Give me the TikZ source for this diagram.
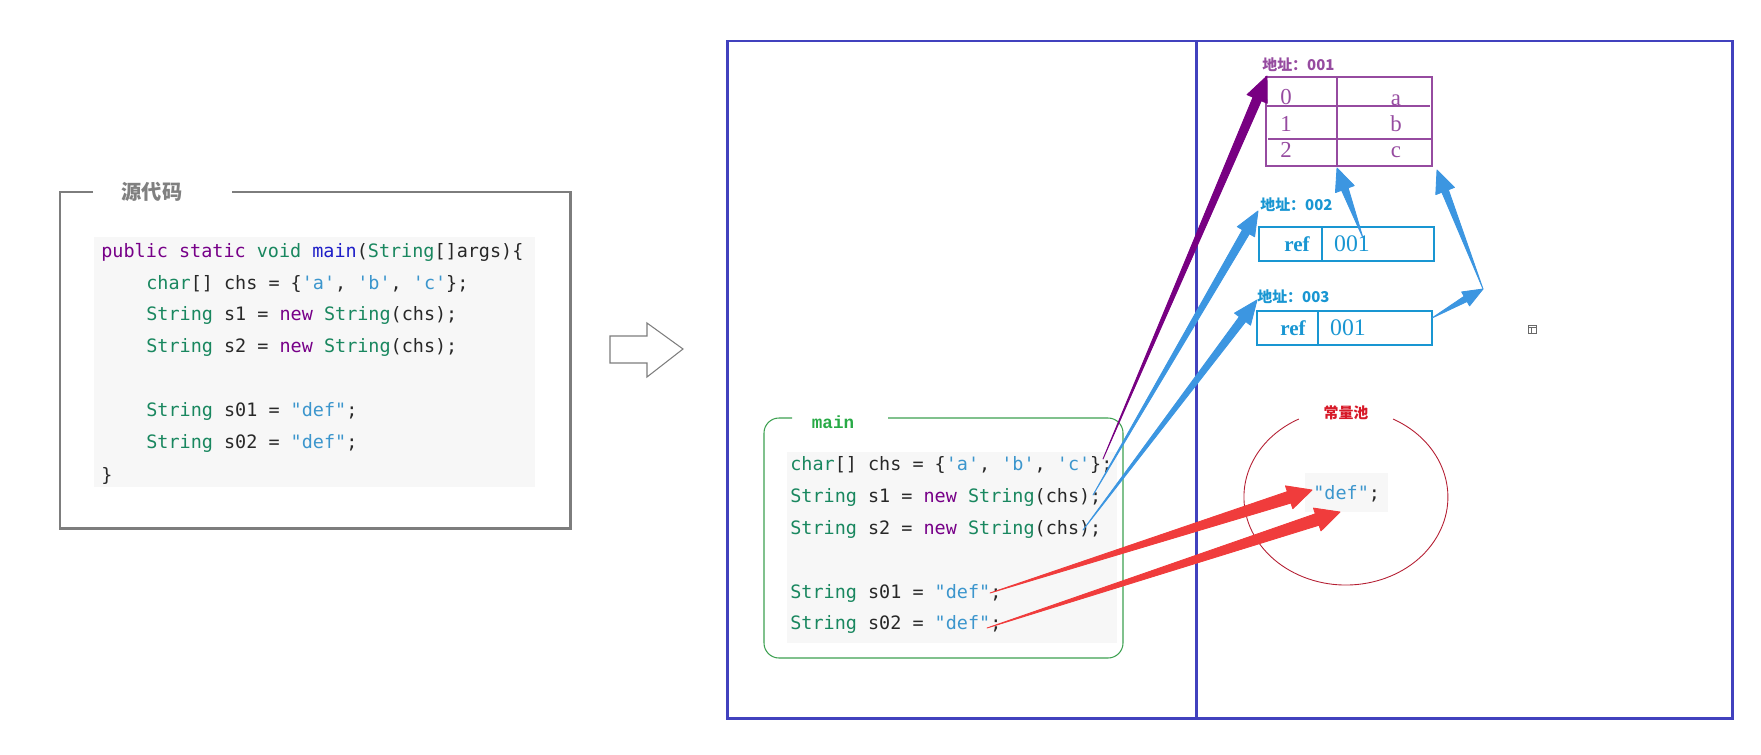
\documentclass[tikz,border=0pt]{standalone}
\usepackage{fontspec}
\setmonofont{DejaVu Sans Mono}
\newfontfamily\cjk{Noto Sans CJK SC}
\newfontfamily\tnr{Liberation Serif}
\newfontfamily\cour{Liberation Mono}
\usetikzlibrary{calc}

% Farben
\definecolor{titlegray}{RGB}{128,128,128}
\definecolor{boxgray}{RGB}{125,125,125}
\definecolor{codebg}{RGB}{247,247,247}
\definecolor{codedark}{RGB}{40,40,40}
\definecolor{kwpurple}{RGB}{119,0,136}
\definecolor{tygreen}{RGB}{25,135,95}
\definecolor{fnblue}{RGB}{30,30,200}
\definecolor{strblue}{RGB}{60,150,205}
\definecolor{frameblue}{RGB}{65,65,190}
\definecolor{mgreen}{RGB}{60,160,80}
\definecolor{mainlabel}{RGB}{40,170,70}
\definecolor{tblpurple}{RGB}{150,75,160}
\definecolor{arrpurple}{RGB}{120,0,130}
\definecolor{refblue}{RGB}{25,150,210}
\definecolor{arrblue}{RGB}{60,150,225}
\definecolor{arrred}{RGB}{240,60,60}
\definecolor{poolred}{RGB}{180,30,50}
\definecolor{pooltitle}{RGB}{215,25,40}

% Syntaxfarben
\newcommand{\cKw}[1]{\textcolor{kwpurple}{#1}}
\newcommand{\cTy}[1]{\textcolor{tygreen}{#1}}
\newcommand{\cFn}[1]{\textcolor{fnblue}{#1}}
\newcommand{\cStr}[1]{\textcolor{strblue}{#1}}

% Pfeil, der sich zur Spitze hin verbreitert: Farbe, von, nach, Schaft, Spitze, Spitzenlaenge
\newcommand{\taperarrow}[6]{%
	\filldraw[#1, line width=0.5pt, line join=round] (#2)
		-- ($(#3)!#6!(#2)!#4!90:(#3)$)
		-- ($(#3)!#6!(#2)!#5!90:(#3)$)
		-- (#3)
		-- ($(#3)!#6!(#2)!#5!-90:(#3)$)
		-- ($(#3)!#6!(#2)!#4!-90:(#3)$)
		-- cycle;}

\begin{document}
\begin{tikzpicture}[x=0.02cm, y=-0.02cm,
	code/.style={font=\ttfamily\fontsize{10.5}{12}\selectfont, text=codedark, anchor=base west, inner sep=0pt},
	cnlabel/.style={font=\cjk\bfseries\fontsize{8.5}{10}\selectfont, anchor=west, inner sep=0pt},
	cell/.style={font=\tnr\fontsize{13}{15}\selectfont, text=tblpurple, anchor=base, inner sep=0pt},
	refkey/.style={font=\tnr\bfseries\fontsize{12}{14}\selectfont, text=refblue, anchor=base, inner sep=0pt},
	refval/.style={font=\tnr\fontsize{13.5}{15}\selectfont, text=refblue, anchor=base, inner sep=0pt}]

	\useasboundingbox (0,0) rectangle (1761,754);

	% Quelltext links
	\fill[codebg] (94,237) rectangle (535,487);
	\node[font=\cjk\bfseries\fontsize{11.5}{13}\selectfont, text=titlegray] (srcTitle) at (152,192) {源代码};
	\draw[boxgray, line width=1.7pt] (93,192) -- (60,192) -- (60,528) -- (570,528) -- (570,192) -- (232,192);

	\node[code] (src1) at (101,257) {\cKw{public static} \cTy{void} \cFn{main}(\cTy{String}[]args)\{};
	\node[code] (src2) at (146,289) {\cTy{char}[] chs = \{\cStr{'a'}, \cStr{'b'}, \cStr{'c'}\};};
	\node[code] (src3) at (146,320) {\cTy{String} s1 = \cKw{new} \cTy{String}(chs);};
	\node[code] (src4) at (146,352) {\cTy{String} s2 = \cKw{new} \cTy{String}(chs);};
	\node[code] (src5) at (146,416) {\cTy{String} s01 = \cStr{"def"};};
	\node[code] (src6) at (146,448) {\cTy{String} s02 = \cStr{"def"};};
	\node[code] (src7) at (101,481) {\}};

	% Blockpfeil
	\draw[boxgray, line width=0.6pt] (610,336) -- (647,336) -- (647,323) -- (683,349) -- (647,377) -- (647,363) -- (610,363) -- cycle;

	% Rahmen Stack / Heap
	\draw[frameblue, line width=1.7pt] (727,41) rectangle (1732,718);
	\draw[frameblue, line width=1.7pt] (1196,41) -- (1196,718);

	% main
	\fill[codebg] (787,452) rectangle (1117,643);
	\node[font=\cour\bfseries\fontsize{10}{12}\selectfont, text=mainlabel] (mainTitle) at (833,422) {main};
	\draw[mgreen, line width=0.6pt, rounded corners=0.3cm] (792,418) -- (764,418) -- (764,658) -- (1123,658) -- (1123,418) -- (888,418);

	\node[code] (m1) at (790,470) {\cTy{char}[] chs = \{\cStr{'a'}, \cStr{'b'}, \cStr{'c'}\};};
	\node[code] (m2) at (790,502) {\cTy{String} s1 = \cKw{new} \cTy{String}(chs);};
	\node[code] (m3) at (790,534) {\cTy{String} s2 = \cKw{new} \cTy{String}(chs);};
	\node[code] (m4) at (790,598) {\cTy{String} s01 = \cStr{"def"};};
	\node[code] (m5) at (790,629) {\cTy{String} s02 = \cStr{"def"};};

	% char-Array 001
	\node[cnlabel, text=tblpurple] (addr1) at (1262,65) {地址：001};
	\draw[tblpurple, line width=0.7pt] (1266,77) rectangle (1432,166);
	\draw[tblpurple, line width=0.7pt] (1337,77) -- (1337,166) (1266,106) -- (1430,106) (1268,139) -- (1432,139);
	\node[cell] (i0) at (1286,104) {0};
	\node[cell] (va) at (1396,105) {a};
	\node[cell] (i1) at (1286,131) {1};
	\node[cell] (vb) at (1396,131) {b};
	\node[cell] (i2) at (1286,157) {2};
	\node[cell] (vc) at (1396,157) {c};

	% String-Objekte 002 und 003
	\node[cnlabel, text=refblue] (addr2) at (1260,205) {地址：002};
	\draw[refblue, line width=0.7pt] (1259,227) rectangle (1434,261) (1322,227) -- (1322,261);
	\node[refkey] (ref2) at (1297,251) {ref};
	\node[refval] (val2) at (1352,251) {001};

	\node[cnlabel, text=refblue] (addr3) at (1257,297) {地址：003};
	\draw[refblue, line width=0.7pt] (1257,311) rectangle (1432,345) (1318,311) -- (1318,345);
	\node[refkey] (ref3) at (1293,335) {ref};
	\node[refval] (val3) at (1348,335) {001};

	% kleines Symbol
	\draw[codedark!70, line width=0.4pt] (1528,325) rectangle (1536,333) (1528,327.5) -- (1536,327.5) (1531,327.5) -- (1531,333);

	% Konstantenpool
	\fill[codebg] (1305,473) rectangle (1388,512);
	\node[code] (pool) at (1313,499) {\cStr{"def"};};
	\node[font=\cjk\bfseries\fontsize{8.5}{10}\selectfont, text=pooltitle] (poolTitle) at (1346,413) {常量池};
	\draw[poolred, line width=0.5pt] (1393,419) arc[start angle=62.5, end angle=-242.5, x radius=2.04cm, y radius=1.76cm];

	% Pfeilenden
	\coordinate (pA) at (1103,459);
	\coordinate (pB) at (1267,76);
	\coordinate (b1s) at (1093,495);
	\coordinate (b1e) at (1258,211);
	\coordinate (b2s) at (1083,530);
	\coordinate (b2e) at (1257,300);
	\coordinate (b3s) at (1363,238);
	\coordinate (b3e) at (1337,168);
	\coordinate (b4s) at (1432,318);
	\coordinate (b4m) at (1483,289);
	\coordinate (b4e) at (1437,170);
	\coordinate (r1s) at (990,593);
	\coordinate (r1e) at (1312,490);
	\coordinate (r2s) at (987,628);
	\coordinate (r2e) at (1340,512);

	% Referenzpfeile
	\taperarrow{arrpurple}{pA}{pB}{0.09cm}{0.22cm}{0.5cm}
	\taperarrow{arrblue}{b1s}{b1e}{0.08cm}{0.2cm}{0.48cm}
	\taperarrow{arrblue}{b2s}{b2e}{0.08cm}{0.2cm}{0.48cm}
	\taperarrow{arrblue}{b3s}{b3e}{0.07cm}{0.2cm}{0.45cm}
	\taperarrow{arrblue}{b4s}{b4m}{0.06cm}{0.16cm}{0.4cm}
	\taperarrow{arrblue}{b4m}{b4e}{0.07cm}{0.2cm}{0.45cm}
	\taperarrow{arrred}{r1s}{r1e}{0.12cm}{0.24cm}{0.48cm}
	\taperarrow{arrred}{r2s}{r2e}{0.12cm}{0.24cm}{0.48cm}

\end{tikzpicture}
\end{document}
